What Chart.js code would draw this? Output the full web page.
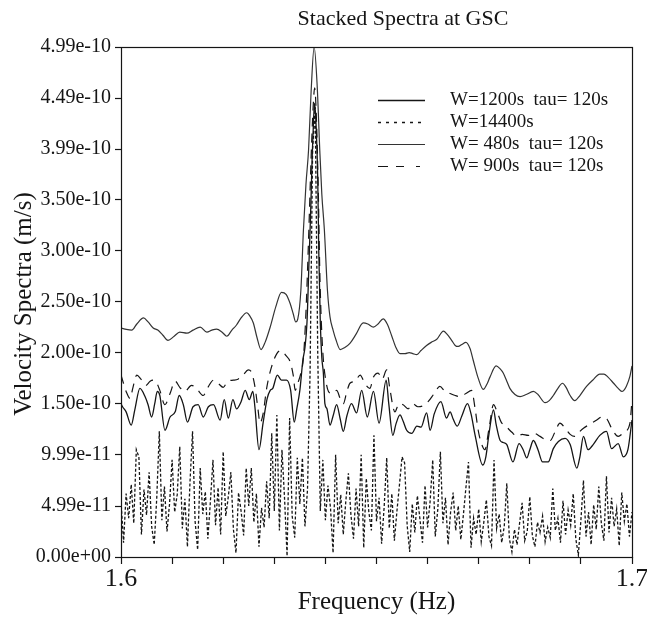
<!DOCTYPE html>
<html>
<head>
<meta charset="utf-8">
<script src="https://cdn.jsdelivr.net/npm/chart.js@4.4.1/dist/chart.umd.min.js"></script>
<style>
  html, body { margin: 0; padding: 0; background: #fff; }
  canvas { display: block; }
</style>
</head>
<body>
<canvas id="spectra" width="647" height="622"></canvas>
<script>
// all amplitudes are in units of 1e-10 m/s

// W=480s tau=120s (smooth upper curve)
const freq480 = [
  1.6000, 1.6008, 1.6021, 1.6031, 1.6044, 1.6053, 1.6063, 1.6072, 1.6082, 1.6092,
  1.6104, 1.6115, 1.6129, 1.6141, 1.6155, 1.6168, 1.6178, 1.6187, 1.6198, 1.6207,
  1.6217, 1.6226, 1.6235, 1.6246, 1.6252, 1.6259, 1.6266, 1.6274, 1.6282, 1.6292,
  1.6303, 1.6314, 1.6323, 1.6331, 1.6337, 1.6342, 1.6346, 1.6352, 1.6357, 1.6362,
  1.6367, 1.6372, 1.6378, 1.6384, 1.6389, 1.6393, 1.6398, 1.6404, 1.6409, 1.6415,
  1.6421, 1.6429, 1.6438, 1.6448, 1.6460, 1.6474, 1.6483, 1.6494, 1.6503, 1.6513,
  1.6521, 1.6530, 1.6538, 1.6546, 1.6556, 1.6564, 1.6571, 1.6579, 1.6587, 1.6598,
  1.6607, 1.6618, 1.6631, 1.6638, 1.6647, 1.6654, 1.6660, 1.6667, 1.6675, 1.6683,
  1.6689, 1.6699, 1.6709, 1.6716, 1.6722, 1.6734, 1.6742, 1.6748, 1.6755, 1.6761,
  1.6771, 1.6781, 1.6793, 1.6807, 1.6816, 1.6830, 1.6838, 1.6846, 1.6855, 1.6864,
  1.6871, 1.6879, 1.6888, 1.6898, 1.6911, 1.6923, 1.6937, 1.6945, 1.6953, 1.6964,
  1.6973, 1.6980, 1.6984, 1.6989, 1.6996, 1.7000
];
const amp480 = [
  2.24, 2.23, 2.22, 2.28, 2.34, 2.30, 2.24, 2.22, 2.17, 2.12,
  2.16, 2.20, 2.19, 2.22, 2.25, 2.20, 2.22, 2.23, 2.20, 2.16,
  2.22, 2.27, 2.34, 2.39, 2.36, 2.29, 2.15, 2.03, 2.10, 2.25,
  2.45, 2.59, 2.57, 2.48, 2.38, 2.30, 2.33, 2.61, 3.20, 3.65,
  3.98, 4.55, 4.99, 4.60, 3.98, 3.55, 3.20, 2.61, 2.35, 2.22,
  2.12, 2.03, 2.05, 2.09, 2.18, 2.29, 2.28, 2.25, 2.28, 2.33,
  2.28, 2.16, 2.05, 1.99, 1.99, 2.00, 1.99, 1.98, 2.02, 2.07,
  2.10, 2.13, 2.21, 2.18, 2.12, 2.07, 2.06, 2.08, 2.10, 2.04,
  1.93, 1.75, 1.64, 1.69, 1.76, 1.87, 1.84, 1.80, 1.72, 1.65,
  1.59, 1.57, 1.59, 1.62, 1.59, 1.51, 1.53, 1.58, 1.65, 1.70,
  1.66, 1.58, 1.53, 1.58, 1.67, 1.73, 1.79, 1.79, 1.76, 1.70,
  1.65, 1.62, 1.63, 1.67, 1.77, 1.87
];

// W=1200s tau=120s
const freq1200 = [
  1.6000, 1.6003, 1.6010, 1.6020, 1.6027, 1.6037, 1.6047, 1.6053, 1.6060, 1.6066,
  1.6071, 1.6076, 1.6086, 1.6096, 1.6106, 1.6114, 1.6122, 1.6130, 1.6141, 1.6151,
  1.6161, 1.6171, 1.6181, 1.6194, 1.6202, 1.6210, 1.6219, 1.6226, 1.6235, 1.6243,
  1.6251, 1.6258, 1.6262, 1.6270, 1.6278, 1.6286, 1.6292, 1.6297, 1.6306, 1.6314,
  1.6324, 1.6332, 1.6339, 1.6344, 1.6350, 1.6356, 1.6360, 1.6364, 1.6368, 1.6371,
  1.6374, 1.6377, 1.6379, 1.6382, 1.6385, 1.6387, 1.6390, 1.6393, 1.6396, 1.6399,
  1.6403, 1.6409, 1.6415, 1.6422, 1.6429, 1.6435, 1.6442, 1.6451, 1.6461, 1.6471,
  1.6482, 1.6494, 1.6505, 1.6519, 1.6524, 1.6532, 1.6538, 1.6546, 1.6552, 1.6559,
  1.6569, 1.6579, 1.6587, 1.6598, 1.6605, 1.6613, 1.6626, 1.6637, 1.6644, 1.6650,
  1.6658, 1.6667, 1.6678, 1.6685, 1.6693, 1.6708, 1.6714, 1.6720, 1.6729, 1.6734,
  1.6742, 1.6748, 1.6755, 1.6767, 1.6779, 1.6787, 1.6794, 1.6800, 1.6807, 1.6816,
  1.6825, 1.6836, 1.6846, 1.6856, 1.6869, 1.6879, 1.6892, 1.6898, 1.6905, 1.6914,
  1.6924, 1.6937, 1.6950, 1.6960, 1.6973, 1.6983, 1.6992, 1.7000
];
const amp1200 = [
  1.50, 1.47, 1.42, 1.29, 1.44, 1.65, 1.57, 1.49, 1.37, 1.50,
  1.62, 1.58, 1.24, 1.37, 1.42, 1.58, 1.49, 1.32, 1.47, 1.49,
  1.37, 1.47, 1.49, 1.34, 1.54, 1.36, 1.54, 1.45, 1.52, 1.63,
  1.54, 1.62, 1.47, 1.05, 1.31, 1.55, 1.63, 1.65, 1.78, 1.73,
  1.73, 1.63, 1.32, 1.45, 1.63, 1.93, 2.05, 2.30, 2.90, 3.35,
  3.90, 4.30, 4.44, 4.20, 3.70, 3.00, 2.30, 1.95, 1.80, 1.50,
  1.45, 1.29, 1.38, 1.49, 1.35, 1.23, 1.38, 1.50, 1.41, 1.63,
  1.37, 1.62, 1.31, 1.73, 1.50, 1.19, 1.30, 1.39, 1.33, 1.24,
  1.21, 1.28, 1.27, 1.41, 1.24, 1.40, 1.52, 1.36, 1.42, 1.35,
  1.28, 1.38, 1.50, 1.40, 1.19, 0.90, 0.98, 1.20, 1.44, 1.30,
  1.14, 1.12, 1.10, 0.93, 1.11, 1.05, 0.97, 1.05, 1.14, 1.05,
  0.93, 0.93, 1.06, 1.13, 1.16, 1.10, 0.87, 0.98, 1.18, 1.05,
  1.10, 1.19, 1.23, 1.06, 1.11, 0.98, 1.05, 1.34
];

// W=900s tau=120s
const freq900 = [
  1.6000, 1.6003, 1.6010, 1.6018, 1.6023, 1.6031, 1.6039, 1.6049, 1.6057, 1.6063,
  1.6070, 1.6076, 1.6086, 1.6096, 1.6106, 1.6115, 1.6125, 1.6138, 1.6149, 1.6161,
  1.6170, 1.6181, 1.6190, 1.6200, 1.6209, 1.6220, 1.6229, 1.6239, 1.6249, 1.6256,
  1.6262, 1.6268, 1.6272, 1.6278, 1.6285, 1.6294, 1.6305, 1.6313, 1.6323, 1.6331,
  1.6337, 1.6341, 1.6346, 1.6352, 1.6357, 1.6362, 1.6367, 1.6372, 1.6376, 1.6379,
  1.6382, 1.6386, 1.6389, 1.6392, 1.6396, 1.6401, 1.6406, 1.6413, 1.6422, 1.6429,
  1.6435, 1.6442, 1.6448, 1.6458, 1.6468, 1.6477, 1.6487, 1.6494, 1.6503, 1.6511,
  1.6520, 1.6526, 1.6536, 1.6544, 1.6552, 1.6562, 1.6571, 1.6581, 1.6591, 1.6601,
  1.6613, 1.6624, 1.6634, 1.6644, 1.6654, 1.6663, 1.6675, 1.6686, 1.6693, 1.6699,
  1.6706, 1.6712, 1.6720, 1.6729, 1.6736, 1.6744, 1.6755, 1.6765, 1.6775, 1.6785,
  1.6797, 1.6808, 1.6820, 1.6830, 1.6840, 1.6849, 1.6859, 1.6869, 1.6879, 1.6888,
  1.6896, 1.6905, 1.6918, 1.6931, 1.6941, 1.6951, 1.6961, 1.6973, 1.6984, 1.6996,
  1.7000
];
const amp900 = [
  1.78, 1.73, 1.62, 1.55, 1.65, 1.78, 1.74, 1.68, 1.72, 1.73,
  1.70, 1.63, 1.49, 1.60, 1.72, 1.66, 1.62, 1.68, 1.64, 1.58,
  1.66, 1.73, 1.70, 1.66, 1.72, 1.73, 1.74, 1.78, 1.83, 1.80,
  1.67, 1.45, 1.31, 1.40, 1.65, 1.85, 1.99, 2.02, 1.97, 1.91,
  1.78, 1.63, 1.70, 1.80, 1.95, 2.40, 3.10, 3.90, 4.40, 4.59,
  4.35, 3.60, 2.80, 2.30, 1.93, 1.72, 1.62, 1.60, 1.63, 1.55,
  1.50, 1.62, 1.70, 1.72, 1.78, 1.70, 1.65, 1.76, 1.80, 1.74,
  1.83, 1.65, 1.42, 1.50, 1.49, 1.45, 1.50, 1.47, 1.48, 1.52,
  1.60, 1.67, 1.62, 1.60, 1.58, 1.57, 1.60, 1.63, 1.45, 1.24,
  1.10, 1.05, 1.25, 1.49, 1.42, 1.32, 1.27, 1.22, 1.18, 1.20,
  1.19, 1.21, 1.18, 1.15, 1.14, 1.22, 1.31, 1.26, 1.20, 1.18,
  1.22, 1.26, 1.30, 1.34, 1.37, 1.35, 1.25, 1.18, 1.22, 1.31,
  1.54
];

// W=14400s, sampled every 0.0005 Hz from 1.6 Hz
const start14400 = 1.6;
const step14400 = 0.0005;
const amp14400 = [
  0.55, 0.14, 0.62, 0.38, 0.71, 0.33, 1.05, 0.98, 0.22, 0.66,
  0.41, 0.83, 0.30, 0.12, 0.58, 1.23, 0.36, 0.69, 0.25, 0.52,
  0.95, 0.44, 0.61, 1.08, 0.28, 0.57, 0.10, 0.73, 1.23, 0.35,
  0.07, 0.87, 0.42, 0.64, 0.18, 0.55, 0.95, 0.31, 0.68, 0.22,
  1.03, 0.40, 0.59, 0.83, 0.27, 0.04, 0.63, 0.45, 0.21, 0.87,
  0.50, 0.87, 0.34, 0.62, 0.10, 0.48, 0.29, 0.74, 0.38, 1.21,
  0.45, 1.39, 0.26, 1.05, 0.58, 0.01, 1.36, 0.40, 0.19, 0.97,
  0.52, 0.97, 0.30, 0.66, 1.80, 4.00, 4.40, 2.00, 0.45, 0.95,
  0.36, 0.70, 0.48, 0.04, 1.00, 0.33, 0.61, 0.22, 0.55, 0.82,
  0.41, 0.18, 0.67, 0.30, 1.00, 0.09, 0.77, 0.44, 0.26, 1.19,
  0.35, 0.58, 0.13, 0.49, 0.97, 0.28, 0.62, 0.16, 0.45, 0.71,
  0.98, 0.92, 0.31, 0.05, 0.52, 0.24, 0.60, 0.37, 0.14, 0.70,
  0.29, 0.55, 0.95, 0.20, 0.47, 1.03, 0.33, 0.58, 0.12, 0.44,
  0.63, 0.26, 0.50, 0.17, 0.41, 0.68, 0.93, 0.09, 0.38, 0.22,
  0.47, 0.15, 0.34, 0.56, 0.20, 0.11, 0.95, 0.28, 0.42, 0.14,
  0.30, 0.72, 0.18, 0.05, 0.27, 0.12, 0.33, 0.53, 0.16, 0.25,
  0.59, 0.21, 0.10, 0.34, 0.24, 0.40, 0.15, 0.29, 0.19, 0.67,
  0.26, 0.38, 0.14, 0.55, 0.22, 0.46, 0.31, 0.62, 0.18, 0.02,
  0.36, 0.75, 0.20, 0.44, 0.12, 0.51, 0.27, 0.69, 0.33, 0.16,
  0.79, 0.24, 0.58, 0.30, 0.47, 0.11, 0.63, 0.35, 0.52, 0.20,
  0.44
];

const yTickValues = [0, 0.499, 0.999, 1.50, 2.00, 2.50, 3.00, 3.50, 3.99, 4.49, 4.99];
const yTickLabels = ['0.00e+00', '4.99e-11', '9.99e-11', '1.50e-10', '2.00e-10', '2.50e-10',
  '3.00e-10', '3.50e-10', '3.99e-10', '4.49e-10', '4.99e-10'];
const xTickValues = [1.60, 1.61, 1.62, 1.63, 1.64, 1.65, 1.66, 1.67, 1.68, 1.69, 1.70];
const xTickLabels = ['1.6', '', '', '', '', '', '', '', '', '', '1.7'];

const legendLabels = ['W=1200s  tau= 120s', 'W=14400s', 'W= 480s  tau= 120s', 'W= 900s  tau= 120s'];

const SERIF = "'Liberation Serif', 'Times New Roman', serif";
const INK = '#151515';

function pairs(xs, ys) {
  return ys.map((y, i) => ({ x: xs[i], y: y }));
}

const freq14400 = amp14400.map((_, i) => start14400 + i * step14400);

// frame, title, axis titles and the legend are painted after the chart
const decorations = {
  id: 'decorations',
  afterDraw(chart) {
    const { ctx, chartArea: a } = chart;
    ctx.save();
    ctx.strokeStyle = INK;
    ctx.lineWidth = 1.2;
    ctx.setLineDash([]);
    ctx.strokeRect(Math.round(a.left) + 0.5, Math.round(a.top) + 0.5,
      Math.round(a.right - a.left), Math.round(a.bottom - a.top));

    ctx.fillStyle = INK;
    ctx.textAlign = 'center';
    ctx.textBaseline = 'middle';
    ctx.font = '22px ' + SERIF;
    ctx.fillText('Stacked Spectra at GSC', 403, 19);

    ctx.font = '25px ' + SERIF;
    ctx.fillText('Frequency (Hz)', (a.left + a.right) / 2, 602);

    ctx.save();
    ctx.translate(24, 304);
    ctx.rotate(-Math.PI / 2);
    ctx.fillText('Velocity Spectra (m/s)', 0, 0);
    ctx.restore();

    // legend
    const rows = [100, 122, 144, 166];
    ctx.font = '19px ' + SERIF;
    ctx.textAlign = 'left';
    chart.data.datasets.forEach((ds, i) => {
      ctx.beginPath();
      ctx.strokeStyle = ds.borderColor;
      ctx.lineWidth = ds.borderWidth;
      ctx.setLineDash(ds.legendDash);
      ctx.moveTo(378, rows[i] + 0.5);
      ctx.lineTo(425, rows[i] + 0.5);
      ctx.stroke();
      ctx.fillText(legendLabels[i], 450, rows[i]);
    });
    ctx.restore();
  }
};

new Chart(document.getElementById('spectra'), {
  type: 'line',
  data: {
    datasets: [
      {
        label: legendLabels[0],
        data: pairs(freq1200, amp1200),
        borderColor: INK,
        borderWidth: 1.3,
        borderDash: [],
        legendDash: [],
        cubicInterpolationMode: 'monotone',
      },
      {
        label: legendLabels[1],
        data: pairs(freq14400, amp14400),
        borderColor: INK,
        borderWidth: 1.3,
        borderDash: [3, 2],
        legendDash: [3, 5],
        tension: 0,
      },
      {
        label: legendLabels[2],
        data: pairs(freq480, amp480),
        borderColor: '#333',
        borderWidth: 1.2,
        borderDash: [],
        legendDash: [],
        cubicInterpolationMode: 'monotone',
      },
      {
        label: legendLabels[3],
        data: pairs(freq900, amp900),
        borderColor: INK,
        borderWidth: 1.2,
        borderDash: [9, 7],
        legendDash: [10, 8, 8, 12, 4],
        cubicInterpolationMode: 'monotone',
      },
    ],
  },
  options: {
    responsive: false,
    animation: false,
    devicePixelRatio: 1,
    layout: {
      padding: { left: 0, right: 15, top: 47, bottom: 0 },
    },
    elements: {
      point: { radius: 0 },
    },
    scales: {
      x: {
        type: 'linear',
        min: 1.6,
        max: 1.7,
        afterBuildTicks: (scale) => {
          scale.ticks = xTickValues.map((v) => ({ value: v }));
        },
        afterFit: (scale) => {
          scale.height = 65;
          scale.paddingLeft = 0;
          scale.paddingRight = 0;
        },
        ticks: {
          callback: (v, i) => xTickLabels[i],
          font: { family: SERIF, size: 26 },
          color: INK,
          maxRotation: 0,
          autoSkip: false,
          padding: 0,
        },
        grid: {
          drawOnChartArea: false,
          tickLength: 7,
          tickColor: INK,
          tickWidth: 1.2,
        },
        border: { display: false },
      },
      y: {
        min: 0,
        max: 4.99,
        afterBuildTicks: (scale) => {
          scale.ticks = yTickValues.map((v) => ({ value: v }));
        },
        afterFit: (scale) => {
          scale.width = 121;
          scale.paddingTop = 0;
          scale.paddingBottom = 0;
        },
        ticks: {
          callback: (v, i) => yTickLabels[i],
          font: { family: SERIF, size: 20 },
          color: INK,
          autoSkip: false,
          padding: 4,
        },
        grid: {
          drawOnChartArea: false,
          tickLength: 6,
          tickColor: INK,
          tickWidth: 1.2,
        },
        border: { display: false },
      },
    },
    plugins: {
      legend: { display: false },
      tooltip: { enabled: false },
    },
  },
  plugins: [decorations],
});
</script>
</body>
</html>
